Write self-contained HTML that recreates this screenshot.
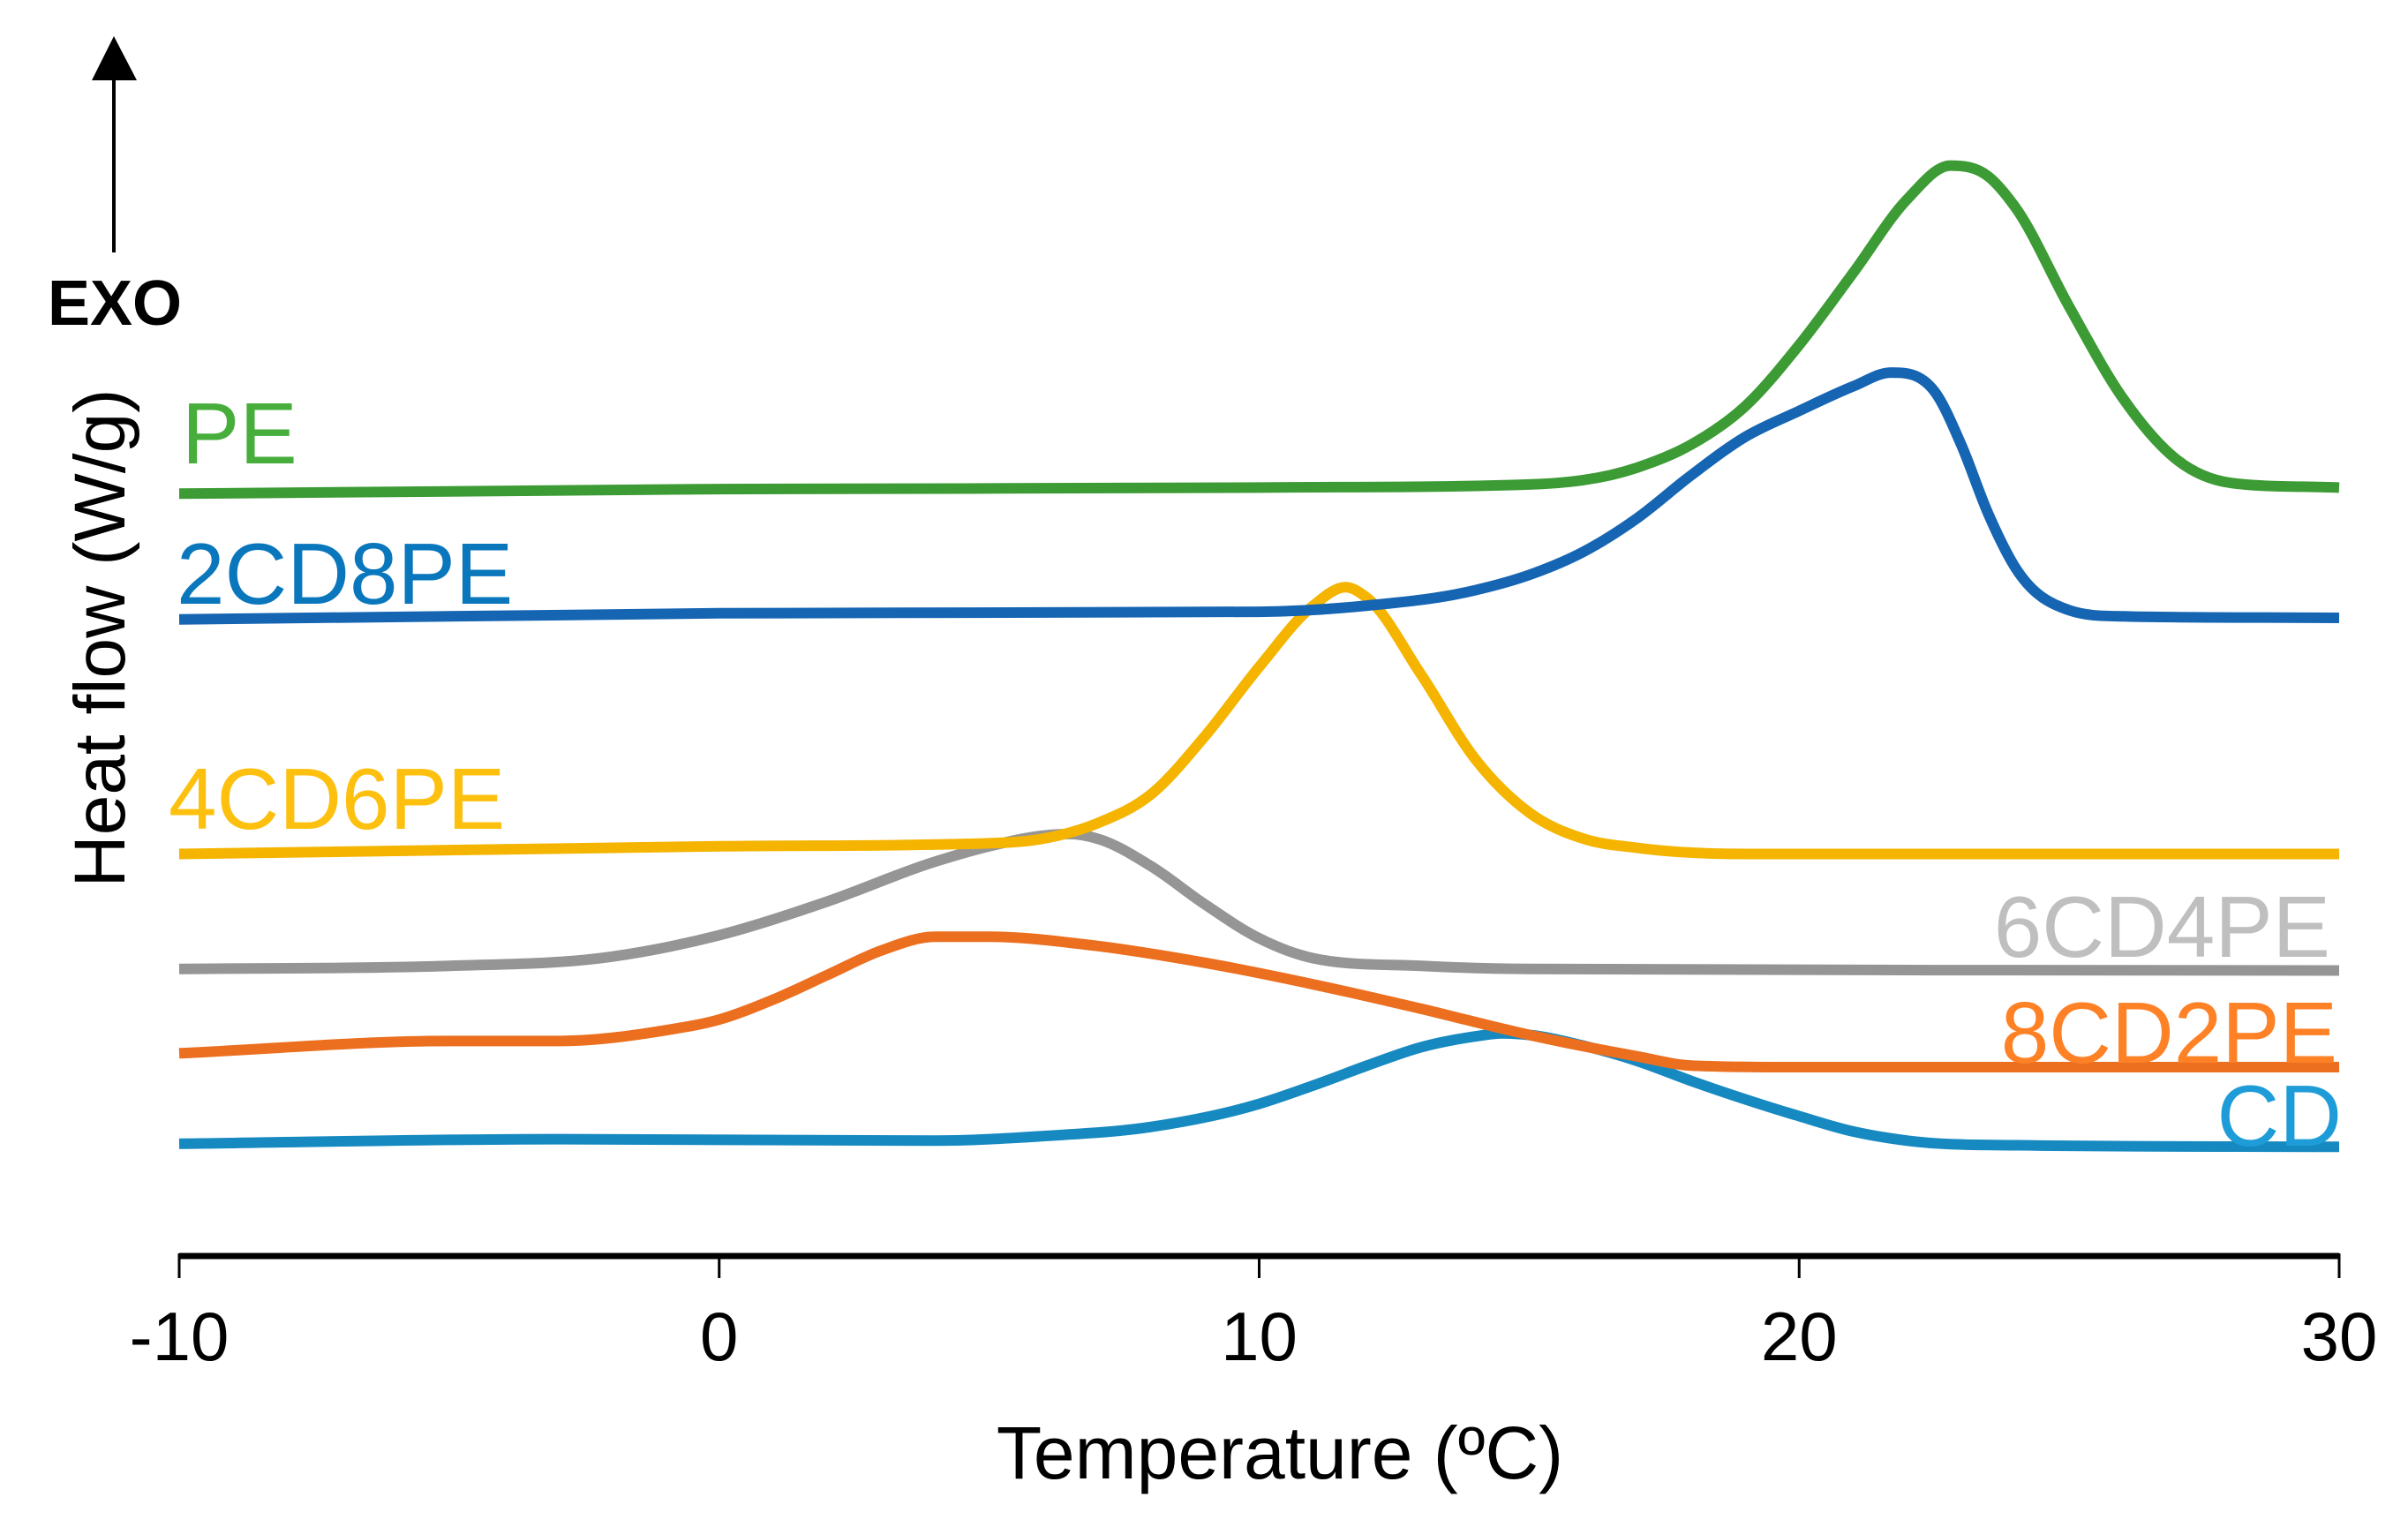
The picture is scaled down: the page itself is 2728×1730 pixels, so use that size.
<!DOCTYPE html>
<html><head><meta charset="utf-8">
<style>
html,body{margin:0;padding:0;background:#fff;}
svg{display:block;}
text{font-family:"Liberation Sans",Arial,sans-serif;}
</style></head>
<body>
<svg id="chart" width="2728" height="1730" viewBox="0 0 2728 1730" xmlns="http://www.w3.org/2000/svg">
  <g>
    <line x1="129" y1="286" x2="129" y2="85" stroke="#000" stroke-width="4"/>
    <polygon points="129,41 104,91 155,91" fill="#000"/>
    <text x="130" y="368" font-size="72" font-weight="bold" text-anchor="middle">EXO</text>
  </g>
  <text transform="translate(141,723) rotate(-90)" font-size="82" text-anchor="middle">Heat flow (W/g)</text>
  <g id="axis"></g>
  <g id="series"></g>
  <text x="1450" y="1675" font-size="84" text-anchor="middle">Temperature (ºC)</text>
  <text x="206" y="525" font-size="98" fill="#47ae3c">PE</text>
  <text x="200" y="684" font-size="98" fill="#0a77bd">2CD8PE</text>
  <text x="191" y="939" font-size="98" fill="#fdc00f">4CD6PE</text>
  <text x="2640" y="1084" font-size="98" fill="#bfbfbf" text-anchor="end">6CD4PE</text>
  <text x="2648" y="1204" font-size="98" fill="#fe8126" text-anchor="end">8CD2PE</text>
  <text x="2653" y="1298" font-size="98" fill="#1e9cd7" text-anchor="end">CD</text>
</svg>
<script>
const xTicks = [-10, 0, 10, 20, 30];
const tickLabels = ["-10", "0", "10", "20", "30"];

const peT = [-10,0,10,15,17,18,19,20,21,22,22.8,23.5,24,25,26,27,28,30];
const peV = [4.78,4.81,4.82,4.84,4.95,5.10,5.35,5.75,6.22,6.70,6.92,6.85,6.65,6.00,5.40,5.00,4.85,4.82];

const cd2T = [-10,0,10,12,14,15,16,17,18,19,20,21,21.7,22.5,23,23.5,24,25,26,30];
const cd2V = [3.96,4.00,4.01,4.05,4.15,4.25,4.40,4.62,4.90,5.15,5.32,5.48,5.57,5.45,5.10,4.65,4.30,4.02,3.98,3.97];

const cd4T = [-10,0,5,6,7,8,9,10,11,11.6,12,13,14,15,16,17,19,30];
const cd4V = [2.43,2.48,2.50,2.53,2.63,2.82,3.20,3.65,4.05,4.17,4.10,3.60,3.05,2.70,2.53,2.47,2.43,2.43];

const cd6T = [-10,-5,-2,0,2,4,5,6,6.5,7,8,9,10,11,13,15,30];
const cd6V = [1.68,1.70,1.76,1.90,2.12,2.38,2.48,2.55,2.56,2.53,2.35,2.10,1.88,1.75,1.70,1.68,1.67];

const cd8T = [-10,-5,-3,-1,0,1,2,3,4,5,7,9,11,13,15,17,18,20,30];
const cd8V = [1.13,1.21,1.21,1.28,1.35,1.48,1.64,1.80,1.89,1.89,1.83,1.72,1.58,1.42,1.25,1.11,1.05,1.04,1.04];

const cdT = [-10,-3,4,6,8,10,11,12,13,14,14.5,15,16,17,18,19,20,21,22,24,30];
const cdV = [0.54,0.57,0.56,0.59,0.65,0.80,0.92,1.05,1.17,1.24,1.26,1.25,1.18,1.08,0.95,0.83,0.72,0.62,0.56,0.53,0.52];

const NS = "http://www.w3.org/2000/svg";
function xScale(t){ return 203 + (t + 10) * 61.175; }
function yScale(v){ return 1.737 * (800 - 100 * v); }

function smoothPath(ts, vs){
  const xs = ts.map(xScale), ys = vs.map(yScale), n = xs.length;
  const d = [], m = new Array(n);
  for (let i=0;i<n-1;i++) d.push((ys[i+1]-ys[i])/(xs[i+1]-xs[i]));
  m[0] = d[0]; m[n-1] = d[n-2];
  for (let i=1;i<n-1;i++){
    const d1=d[i-1], d2=d[i];
    if (d1*d2 <= 0) { m[i]=0; continue; }
    const w1=xs[i+1]-xs[i], w2=xs[i]-xs[i-1];
    let t=(d1*w1+d2*w2)/(w1+w2);
    const lim = 3*Math.min(Math.abs(d1),Math.abs(d2));
    if (Math.abs(t) > lim) t = Math.sign(t)*lim;
    m[i]=t;
  }
  let p = "M" + xs[0].toFixed(1) + "," + ys[0].toFixed(1);
  for (let i=0;i<n-1;i++){
    const h=(xs[i+1]-xs[i])/3;
    p += " C" + (xs[i]+h).toFixed(1)+","+(ys[i]+m[i]*h).toFixed(1)+" "+(xs[i+1]-h).toFixed(1)+","+(ys[i+1]-m[i+1]*h).toFixed(1)+" "+xs[i+1].toFixed(1)+","+ys[i+1].toFixed(1);
  }
  return p;
}

const axis = document.getElementById("axis");
const base = document.createElementNS(NS,"line");


base.setAttribute("x1", xScale(-10)); base.setAttribute("x2", xScale(30));
base.setAttribute("y1", 1423); base.setAttribute("y2", 1423);
base.setAttribute("stroke","#000"); base.setAttribute("stroke-width","7");
axis.appendChild(base);
xTicks.forEach((t,i)=>{
  const tk = document.createElementNS(NS,"line");
  
  
  tk.setAttribute("x1", xScale(t)); tk.setAttribute("x2", xScale(t));
  tk.setAttribute("y1", 1420); tk.setAttribute("y2", 1448);
  tk.setAttribute("stroke","#000"); tk.setAttribute("stroke-width","3");
  axis.appendChild(tk);
  const lb = document.createElementNS(NS,"text");
  
  
  lb.setAttribute("x", xScale(t)); lb.setAttribute("y", 1541);
  lb.setAttribute("font-size","78"); lb.setAttribute("text-anchor","middle");
  lb.textContent = tickLabels[i];
  axis.appendChild(lb);
});

const g = document.getElementById("series");
function addSeries(ts, vs, color, name){
  const p = document.createElementNS(NS,"path");
  
  
  p.setAttribute("d", smoothPath(ts, vs));
  p.setAttribute("fill","none"); p.setAttribute("stroke", color);
  p.setAttribute("stroke-width","12");
  g.appendChild(p);
}
addSeries(cdT, cdV, "#1689c0", "line-cd");
addSeries(cd8T, cd8V, "#eb6f1f", "line-8cd2pe");
addSeries(cd6T, cd6V, "#959595", "line-6cd4pe");
addSeries(cd4T, cd4V, "#f4b400", "line-4cd6pe");
addSeries(cd2T, cd2V, "#1565b3", "line-2cd8pe");
addSeries(peT, peV, "#3c9b34", "line-pe");
</script>
</body></html>
